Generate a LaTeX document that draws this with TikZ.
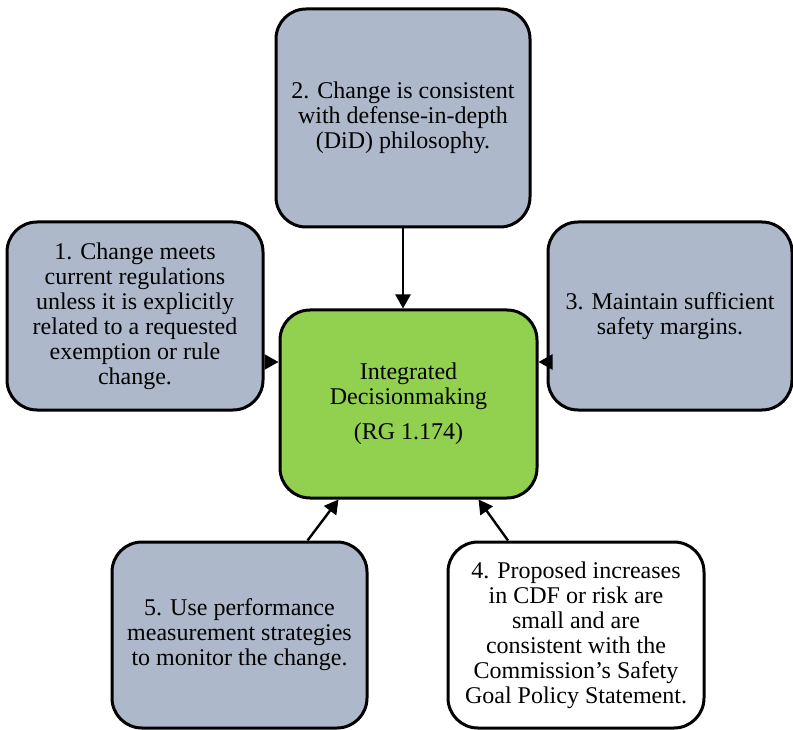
\documentclass[tikz,border=0pt]{standalone}
\usepackage{fontspec}
\setmainfont{Liberation Serif}
\usetikzlibrary{arrows.meta,calc}
\definecolor{boxgray}{HTML}{ADB9CA}
\definecolor{boxgreen}{HTML}{92D050}
\begin{document}
\begin{tikzpicture}[x=1pt,y=-1pt,
  box/.style={draw=black, line width=3pt, rounded corners=30pt, fill=boxgray,
    align=center, inner sep=0pt, font=\fontsize{24}{25}\selectfont},
  conn/.style={line width=2.4pt, -{Triangle[length=14pt,width=15pt]}}]
\useasboundingbox (0,0) rectangle (793,730);
\node[box, minimum width=256pt, minimum height=188pt] (b1) at (135,316)
  {1. Change meets\\current regulations\\unless it is explicitly\\related to a requested\\exemption or rule\\change.};
\node[box, minimum width=254pt, minimum height=218pt] (b2) at (403,118)
  {2. Change is consistent\\with defense-in-depth\\(DiD) philosophy.};
\node[box, minimum width=244pt, minimum height=188pt] (b3) at (670,316)
  {3. Maintain sufficient\\safety margins.};
\node[box, fill=boxgreen, minimum width=257pt, minimum height=188pt] (c) at (408.5,404)
  {Integrated\\Decisionmaking\\[10pt](RG 1.174)};
\node[box, minimum width=255pt, minimum height=186pt] (b5) at (239.5,635)
  {5. Use performance\\measurement strategies\\to monitor the change.};
\node[box, fill=white, minimum width=256pt, minimum height=186pt] (b4) at (576,635)
  {4. Proposed increases\\in CDF or risk are\\small and are\\consistent with the\\Commission’s Safety\\Goal Policy Statement.};
\coordinate (lv) at (0,362);
\draw[conn] (b2.south) -- (b2.south |- c.north);
\draw[conn] (b1.east |- lv) -- (c.west |- lv);
\draw[conn] (b3.west |- lv) -- (c.east |- lv);
\draw[conn] ([xshift=68pt]b5.north) -- ([xshift=-70pt]c.south);
\draw[conn] ([xshift=-68pt]b4.north) -- ([xshift=70pt]c.south);
\end{tikzpicture}
\end{document}
